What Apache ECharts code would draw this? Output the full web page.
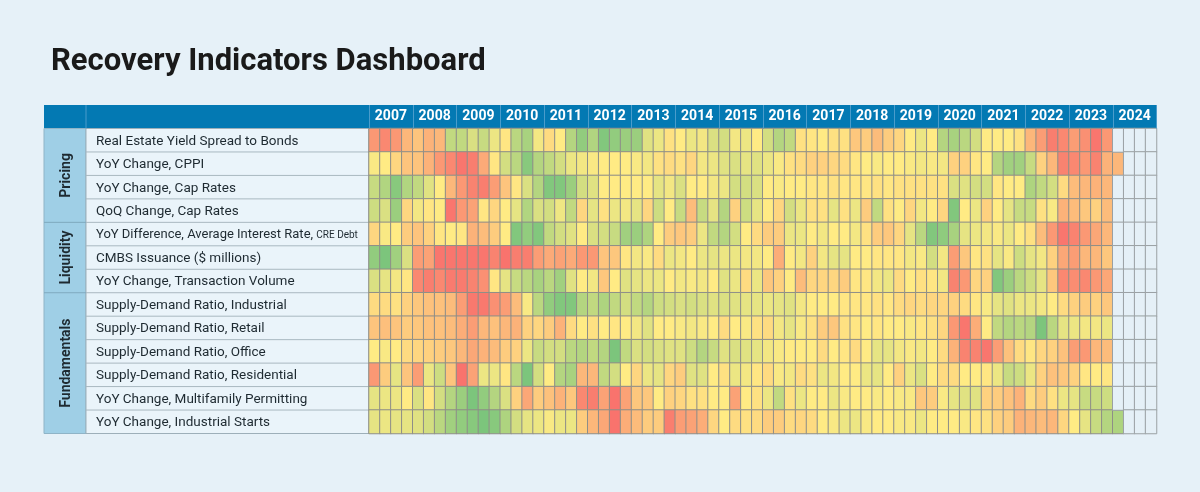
<!DOCTYPE html>
<html>
<head>
<meta charset="utf-8">
<script src="https://cdn.jsdelivr.net/npm/echarts@6/dist/echarts.min.js"></script>
<style>
html,body{margin:0;padding:0;background:#E6F1F8;}
#chart{width:1200px;height:492px;}
</style>
</head>
<body>
<div id="chart"></div>
<script>
// ---- Data ----
const years = ['2007','2008','2009','2010','2011','2012','2013','2014','2015','2016','2017','2018','2019','2020','2021','2022','2023','2024'];
const quarters = ['Q1','Q2','Q3','Q4'];
const rowLabels = [
  'Real Estate Yield Spread to Bonds',
  'YoY Change, CPPI',
  'YoY Change, Cap Rates',
  'QoQ Change, Cap Rates',
  'YoY Difference, Average Interest Rate, CRE Debt',
  'CMBS Issuance ($ millions)',
  'YoY Change, Transaction Volume',
  'Supply-Demand Ratio, Industrial',
  'Supply-Demand Ratio, Retail',
  'Supply-Demand Ratio, Office',
  'Supply-Demand Ratio, Residential',
  'YoY Change, Multifamily Permitting',
  'YoY Change, Industrial Starts'
];
const groups = [
  {name:'Pricing', rows:4},
  {name:'Liquidity', rows:3},
  {name:'Fundamentals', rows:6}
];
// Score per quarter from 2007 Q1 (0 = weakest / red, 50 = neutral / yellow, 100 = strongest / green)
const yieldSpread = [18,12,18,30, 35,28,30,70, 70,62,68,56, 48,72,78,54, 44,50,74,85, 75,90,85,82, 82,60,56,46, 50,56,54,62, 64,54,56,50, 64,74,70,46, 48,50,46,46, 36,38,32,38, 42,50,56,50, 74,78,72,64, 50,50,50,46, 30,20,8,12, 20,15,5,18];
const cppi = [52,50,42,35, 35,28,18,12, 5,8,25,48, 64,72,88,74, 70,64,56,54, 52,50,50,50, 52,54,46,44, 46,42,54,56, 60,62,58,60, 56,52,46,44, 40,40,42,44, 48,50,52,50, 50,52,54,52, 54,40,40,48, 50,74,80,80, 68,40,30,10, 12,18,10,28, 30];
const capRatesYoY = [68,75,88,75, 70,60,50,30, 18,10,8,20, 35,48,62,74, 90,90,82,64, 60,50,50,50, 50,50,58,54, 62,50,50,54, 56,64,64,62, 50,52,50,50, 48,48,46,48, 48,48,46,48, 46,46,46,46, 46,62,60,64, 64,48,50,50, 76,70,64,44, 32,30,28,30];
const capRatesQoQ = [66,62,82,42, 54,48,50,5, 18,22,48,42, 50,58,75,62, 64,55,70,42, 58,46,56,54, 58,42,66,50, 68,32,68,58, 74,40,66,58, 50,42,64,56, 46,46,58,46, 56,38,70,46, 50,42,54,50, 42,90,50,56, 40,50,58,68, 68,46,52,28, 32,36,40,32];
const interestRate = [42,52,50,38, 35,40,48,50, 48,28,32,38, 50,90,85,90, 70,64,60,50, 62,64,68,80, 82,76,50,38, 36,38,56,70, 74,64,50,44, 38,38,56,56, 50,54,50,50, 54,46,38,36, 42,58,72,90, 86,78,58,56, 54,52,56,50, 46,32,18,5, 10,18,24,30];
const cmbsIssuance = [85,92,80,62, 20,22,5,5, 5,5,5,10, 4,8,8,20, 25,22,25,18, 18,35,36,48, 54,52,44,56, 54,50,56,58, 56,56,54,54, 50,26,50,54, 40,54,58,58, 50,50,48,48, 48,54,52,64, 54,20,36,48, 46,58,52,66, 58,54,40,24, 20,30,30,36];
const transactionVolume = [62,58,54,48, 12,8,12,7, 7,10,15,48, 58,68,72,78, 72,80,60,50, 54,36,50,60, 58,56,56,50, 54,52,54,50, 60,56,44,56, 36,40,50,32, 42,42,42,38, 48,48,54,56, 44,50,46,48, 54,10,18,42, 40,90,82,72, 66,58,36,12, 14,12,18,24];
const sdIndustrial = [44,44,46,40, 36,34,34,32, 20,6,6,15, 20,32,52,72, 85,90,90,74, 70,76,70,64, 70,74,66,64, 62,64,62,60, 62,60,58,58, 56,58,60,54, 50,50,50,48, 48,48,46,48, 44,42,44,42, 42,40,44,48, 52,58,60,56, 56,54,50,44, 40,38,40,36];
const sdRetail = [35,33,35,38, 36,34,34,32, 26,20,30,34, 30,28,40,42, 38,28,44,50, 46,50,48,50, 54,60,50,50, 52,54,52,50, 44,50,52,46, 44,54,58,52, 46,38,36,46, 48,50,48,50, 50,52,48,46, 42,18,5,26, 50,70,74,72, 74,92,72,58, 56,54,54,56];
const sdOffice = [50,52,50,44, 42,40,38,36, 30,24,28,32, 38,40,56,68, 64,64,72,74, 70,74,92,70, 62,64,62,60, 60,66,74,68, 60,62,60,58, 54,52,50,50, 50,44,50,48, 44,50,58,58, 54,52,54,50, 44,28,10,10, 5,20,34,44, 48,42,40,34, 20,18,30,32];
const sdResidential = [18,38,58,35, 20,56,66,35, 4,22,56,56, 48,72,92,64, 50,74,78,30, 30,70,64,50, 42,56,58,42, 38,60,60,50, 46,56,54,48, 44,52,54,44, 46,56,54,50, 50,56,58,50, 40,56,62,50, 44,44,50,50, 48,56,68,66, 56,40,34,36, 40,48,50,48];
const mfPermitting = [58,56,56,50, 62,48,64,74, 82,92,85,74, 62,40,24,38, 34,28,36,12, 8,22,4,22, 36,36,50,40, 42,46,46,50, 50,22,50,46, 56,70,46,56, 50,50,56,52, 50,50,52,50, 52,52,36,38, 52,58,60,60, 40,38,34,28, 44,38,46,56, 58,68,68,66];
const industrialStarts = [58,56,58,58, 60,64,72,80, 85,88,92,88, 76,64,58,56, 52,56,56,38, 30,24,4,26, 32,38,38,8, 20,22,26,42, 50,44,46,44, 38,38,44,42, 44,50,52,56, 56,52,50,50, 52,52,56,50, 50,50,52,48, 46,40,38,28, 30,32,30,42, 50,58,68,74, 76];

const rowsData = [yieldSpread, cppi, capRatesYoY, capRatesQoQ, interestRate, cmbsIssuance, transactionVolume, sdIndustrial, sdRetail, sdOffice, sdResidential, mfPermitting, industrialStarts];

// ---- Build ----
const quarterCats = [];
years.forEach(y => quarters.forEach(q => quarterCats.push(y + ' ' + q)));

const cells = [], empties = [];
rowsData.forEach((arr, i) => {
  for (let j = 0; j < quarterCats.length; j++) {
    if (j < arr.length) cells.push([j, i, arr[j]]);
    else empties.push([j, i, 0]);
  }
});

const L = {tableLeft:44, groupRight:86, gridLeft:369, gridRight:1156.5, headTop:105, top:128.5, bottom:433.5};
const rowH = (L.bottom - L.top) / rowLabels.length;
const FONT = 'Roboto, "Noto Sans", Arial, sans-serif';

const chart = echarts.init(document.getElementById('chart'), null, {renderer:'canvas'});

const graphics = [];
graphics.push({type:'rect', z:-10, shape:{x:L.tableLeft, y:L.headTop, width:L.gridRight - L.tableLeft, height:L.top - L.headTop}, style:{fill:'#0379B3'}});
graphics.push({type:'line', z:-9, shape:{x1:L.groupRight, y1:L.headTop, x2:L.groupRight, y2:L.top}, style:{stroke:'#4A9CCB', lineWidth:1}});
graphics.push({type:'rect', z:-10, shape:{x:L.tableLeft, y:L.top, width:L.groupRight - L.tableLeft, height:L.bottom - L.top}, style:{fill:'#9FCFE6', stroke:'#8FB4C7', lineWidth:1}});
graphics.push({type:'rect', z:-10, shape:{x:L.groupRight, y:L.top, width:L.gridLeft - L.groupRight, height:L.bottom - L.top}, style:{fill:'#EAF4FA', stroke:'#9DAFB9', lineWidth:1}});
for (let i = 1; i < rowLabels.length; i++) {
  const y = L.top + i * rowH;
  graphics.push({type:'line', z:-9, shape:{x1:L.groupRight, y1:y, x2:L.gridLeft, y2:y}, style:{stroke:'#A9B8C0', lineWidth:1}});
}
let start = 0;
groups.forEach((g, gi) => {
  const y0 = L.top + start * rowH, y1 = L.top + (start + g.rows) * rowH;
  if (gi > 0) graphics.push({type:'line', z:-9, shape:{x1:L.tableLeft, y1:y0, x2:L.groupRight, y2:y0}, style:{stroke:'#7FA9BF', lineWidth:1}});
  graphics.push({type:'text', z:-8, x:(L.tableLeft + L.groupRight)/2 + 1, y:(y0 + y1)/2, rotation:Math.PI/2,
    style:{text:g.name, fill:'#1E2A31', font:'bold 14px ' + FONT, textAlign:'center', textVerticalAlign:'middle'}});
  start += g.rows;
});

chart.setOption({
  backgroundColor:'#E6F1F8',
  animation:false,
  title:{text:'Recovery Indicators Dashboard', left:46, top:42, textStyle:{fontFamily:FONT, fontSize:31, fontWeight:'bold', color:'#1A1A1A'}},
  grid:{left:L.gridLeft, right:1200 - L.gridRight, top:L.top, bottom:492 - L.bottom},
  xAxis:[
    {type:'category', data:quarterCats, gridIndex:0, axisLine:{show:false}, axisTick:{show:false}, axisLabel:{show:false}, splitLine:{show:false}},
    {type:'category', data:years, gridIndex:0, position:'top', z:5,
     axisLine:{show:false},
     axisTick:{show:true, length:L.top - L.headTop, lineStyle:{color:'#4A9CCB', width:1}},
     axisLabel:{color:'#FFFFFF', fontFamily:FONT, fontSize:14, fontWeight:'bold', margin:5, interval:0}}
  ],
  yAxis:{type:'category', data:rowLabels, inverse:true, z:5,
    axisLine:{show:false}, axisTick:{show:false},
    axisLabel:{align:'left', margin:L.gridLeft - 96, color:'#1E2A31', fontFamily:FONT, fontSize:13.5,
      formatter: v => v.endsWith(', CRE Debt') ? '{c|' + v.replace(' CRE Debt','') + ' }{b|CRE Debt}' : '{a|' + v + '}',
      rich:{
        a:{fontFamily:FONT, fontSize:13.5, color:'#1E2A31', padding:[2,0,0,0]},
        c:{fontFamily:FONT, fontSize:13, color:'#1E2A31', padding:[2,0,0,0]},
        b:{fontFamily:FONT, fontSize:10, color:'#1E2A31', padding:[3,0,0,0]}}}
  },
  visualMap:{type:'continuous', show:false, min:0, max:100, seriesIndex:0, dimension:2,
    inRange:{color:['#F8696B','#FFEB84','#63BE7B']}},
  series:[
    {type:'heatmap', data:cells, itemStyle:{borderColor:'#8E8E88', borderWidth:1}, emphasis:{disabled:true}},
    {type:'heatmap', data:empties, itemStyle:{color:'#E5F0F7', borderColor:'#9AA0A3', borderWidth:1}, emphasis:{disabled:true}}
  ],
  graphic:{elements:graphics}
});
</script>
</body>
</html>
